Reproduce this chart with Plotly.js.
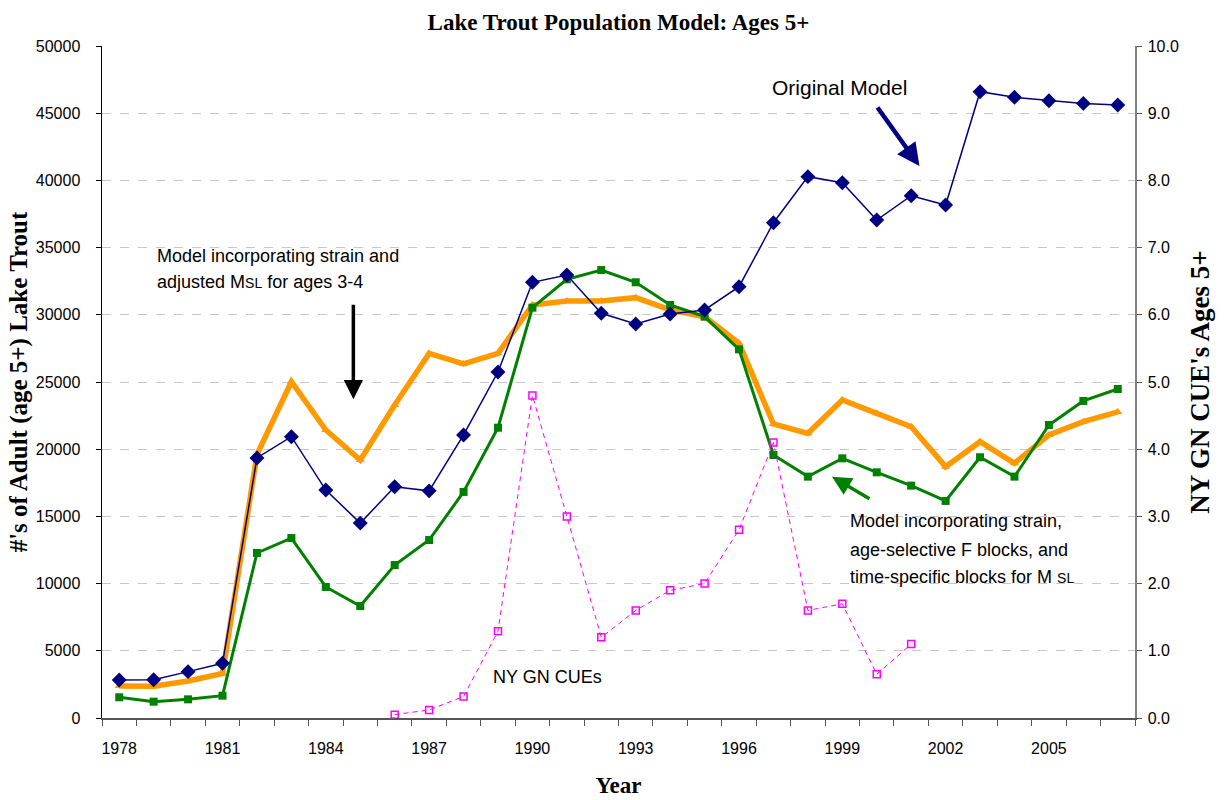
<!DOCTYPE html>
<html>
<head>
<meta charset="utf-8">
<script src="https://cdn.plot.ly/plotly-3.0.1.min.js"></script>
<style>html,body{margin:0;padding:0;background:#fff;}#chart{width:1225px;height:800px;}</style>
</head>
<body>
<div id="chart"></div>
<script>
const years = [1978,1979,1980,1981,1982,1983,1984,1985,1986,1987,1988,1989,1990,1991,1992,1993,1994,1995,1996,1997,1998,1999,2000,2001,2002,2003,2004,2005,2006,2007];
const originalModel = [2830,2850,3450,4070,19350,20930,16960,14500,17200,16900,21060,25740,32420,32960,30110,29320,30060,30360,32090,36850,40280,39830,37050,38860,38170,46600,46180,45930,45730,45610];
const strainMsl = [2380,2360,2750,3320,19600,25020,21430,19200,23290,27130,26340,27130,30730,31030,31030,31275,30360,29860,27880,21875,21180,23660,22670,21670,18700,20560,18950,21060,22050,22770];
const strainFBlocks = [1540,1215,1390,1660,12280,13390,9750,8330,11380,13240,16820,21600,30530,32640,33330,32420,30730,29860,27430,19570,17960,19320,18280,17290,16150,19400,17960,21800,23590,24480];
const cueYears = [1986,1987,1988,1989,1990,1991,1992,1993,1994,1995,1996,1997,1998,1999,2000,2001];
const nyGnCues = [0.05,0.12,0.32,1.29,4.80,3.0,1.2,1.6,1.9,2.0,2.8,4.1,1.6,1.7,0.65,1.1];
const xTickLabels = ['1978','1981','1984','1987','1990','1993','1996','1999','2002','2005'];
const xTickVals = [1978,1981,1984,1987,1990,1993,1996,1999,2002,2005];
const leftTicks = [0,5000,10000,15000,20000,25000,30000,35000,40000,45000,50000];
const leftTickLabels = ['0','5000','10000','15000','20000','25000','30000','35000','40000','45000','50000'];
const rightTicks = [0,1,2,3,4,5,6,7,8,9,10];
const rightTickLabels = ['0.0','1.0','2.0','3.0','4.0','5.0','6.0','7.0','8.0','9.0','10.0'];

const sans = 'Liberation Sans, Arial, sans-serif';
const serif = 'Liberation Serif, Times New Roman, serif';

const traces = [
  {x: years, y: strainMsl, mode: 'lines+markers', name: 'strain MSL',
   line: {color: '#FF9900', width: 5.5}, marker: {symbol: 'triangle-up', size: 8, color: '#FF9900'}},
  {x: years, y: strainFBlocks, mode: 'lines+markers', name: 'strain F blocks',
   line: {color: '#008000', width: 3}, marker: {symbol: 'square', size: 8, color: '#008000'}},
  {x: years, y: originalModel, mode: 'lines+markers', name: 'Original Model',
   line: {color: '#000080', width: 1.5}, marker: {symbol: 'diamond', size: 11.5, color: '#000080'}},
  {x: cueYears, y: nyGnCues, mode: 'lines+markers', name: 'NY GN CUEs', xaxis: 'x2', yaxis: 'y2',
   line: {color: '#FF00FF', width: 1, dash: '5px,4px'},
   marker: {symbol: 'square-open', size: 7, color: '#FF00FF', line: {width: 1.5, color: '#FF00FF'}}}
];

const layout = {
  width: 1225, height: 800,
  margin: {l: 102, r: 90, t: 46, b: 82},
  paper_bgcolor: '#fff', plot_bgcolor: '#fff',
  showlegend: false,
  title: {text: 'Lake Trout Population Model: Ages 5+', font: {family: serif, size: 23, color: '#000', weight: 'bold'},
          x: 0.5, xref: 'paper', y: 1 - 22/800, yanchor: 'middle'},
  xaxis: {range: [1977.5, 2007.5], tickmode: 'linear', tick0: 1977.5, dtick: 1,
          ticks: 'outside', ticklen: 6, tickcolor: '#555', tickwidth: 1,
          showticklabels: false, showline: true, linecolor: '#555', linewidth: 1.5,
          showgrid: false, zeroline: false, fixedrange: true},
  xaxis2: {overlaying: 'x', anchor: 'y', side: 'bottom', range: [1977.5, 2007.5],
           tickmode: 'array', tickvals: xTickVals, ticktext: xTickLabels, ticks: '',
           ticklabelstandoff: 19,
           tickfont: {family: sans, size: 16, color: '#000'},
           showline: false, showgrid: false, zeroline: false, fixedrange: true,
           title: {text: 'Year', font: {family: serif, size: 23, color: '#000', weight: 'bold'}, standoff: 20}},
  yaxis: {range: [0, 50000], tickmode: 'array', tickvals: leftTicks, ticktext: leftTickLabels, ticks: 'outside', ticklen: 5, tickcolor: '#000',
          ticklabelstandoff: 12,
          tickfont: {family: sans, size: 16, color: '#000'},
          showline: true, linecolor: '#000', linewidth: 1.5,
          showgrid: true, gridcolor: '#c8c8c8', gridwidth: 1, griddash: 'dash', zeroline: false, fixedrange: true,
          title: {text: "#'s of Adult (age 5+) Lake Trout", font: {family: serif, size: 25, color: '#000', weight: 'bold'}, standoff: 1}},
  yaxis2: {overlaying: 'y', anchor: 'x', side: 'right', range: [0, 10], tickmode: 'array', tickvals: rightTicks, ticktext: rightTickLabels,
           ticks: 'outside', ticklen: 5, tickcolor: '#555', ticklabelstandoff: 3,
           tickfont: {family: sans, size: 16, color: '#000'},
           showline: true, linecolor: '#808080', linewidth: 1.5,
           showgrid: false, zeroline: false, fixedrange: true,
           title: {text: "NY GN CUE's Ages 5+", font: {family: serif, size: 27, color: '#000', weight: 'bold'}, standoff: 12}},
  annotations: [
    {text: 'Original Model', xref: 'paper', yref: 'paper', x: (770-102)/1033, y: (718-87)/672, xanchor: 'left', yanchor: 'middle', showarrow: false, font: {family: sans, size: 21, color: '#000'}},
    {text: 'Model incorporating strain and', xref: 'paper', yref: 'paper', x: (155-102)/1033, y: (718-256)/672, xanchor: 'left', yanchor: 'middle', showarrow: false, font: {family: sans, size: 18, color: '#000'}},
    {text: 'adjusted M<span style="font-size:14px">SL</span> for ages 3-4', xref: 'paper', yref: 'paper', x: (155-102)/1033, y: (718-282)/672, xanchor: 'left', yanchor: 'middle', showarrow: false, font: {family: sans, size: 18, color: '#000'}},
    {text: 'Model incorporating strain,', xref: 'paper', yref: 'paper', x: (848-102)/1033, y: (718-521)/672, xanchor: 'left', yanchor: 'middle', showarrow: false, font: {family: sans, size: 18, color: '#000'}},
    {text: 'age-selective F blocks, and', xref: 'paper', yref: 'paper', x: (848-102)/1033, y: (718-550)/672, xanchor: 'left', yanchor: 'middle', showarrow: false, font: {family: sans, size: 18, color: '#000'}},
    {text: 'time-specific blocks for M <span style="font-size:14px">SL</span>', xref: 'paper', yref: 'paper', x: (848-102)/1033, y: (718-577)/672, xanchor: 'left', yanchor: 'middle', showarrow: false, font: {family: sans, size: 18, color: '#000'}},
    {text: 'NY GN CUEs', xref: 'paper', yref: 'paper', x: (491-102)/1033, y: (718-677)/672, xanchor: 'left', yanchor: 'middle', showarrow: false, font: {family: sans, size: 18, color: '#000'}},
    {text: '', xref: 'x', yref: 'y', x: 1984.8, y: 23710, ax: 0, ay: -96, showarrow: true, arrowhead: 2, arrowsize: 1.1, arrowwidth: 3.5, arrowcolor: '#000'},
    {text: '', xref: 'x', yref: 'y', x: 2001.24, y: 41070, ax: -43, ay: -60, showarrow: true, arrowhead: 2, arrowsize: 1.0, arrowwidth: 4.5, arrowcolor: '#000080'},
    {text: '', xref: 'x', yref: 'y', x: 1998.7, y: 17950, ax: 39, ay: 23, showarrow: true, arrowhead: 2, arrowsize: 1.1, arrowwidth: 3.5, arrowcolor: '#008000'}
  ]
};

Plotly.newPlot('chart', traces, layout, {displayModeBar: false, staticPlot: true});
</script>
</body>
</html>
